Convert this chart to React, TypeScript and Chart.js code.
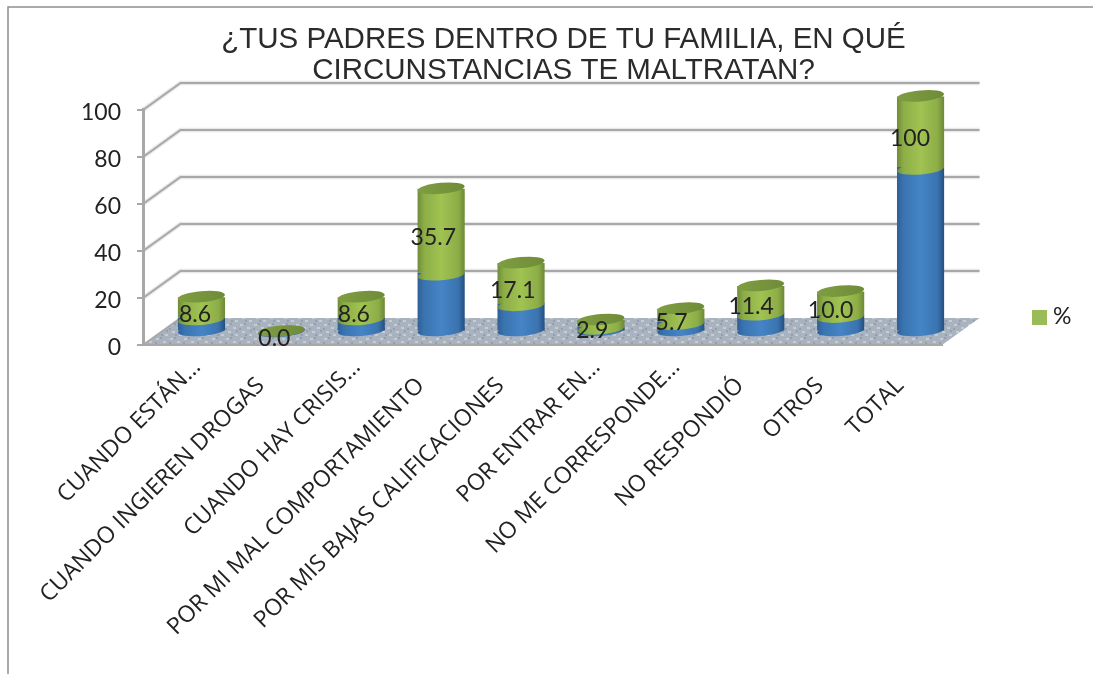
import React, { useEffect, useRef } from "react";
import { Chart, registerables } from "chart.js";

Chart.register(...registerables);

const chartTitle = ["¿TUS PADRES DENTRO DE TU FAMILIA, EN QUÉ", "CIRCUNSTANCIAS TE MALTRATAN?"];
const categories = [
  "CUANDO ESTÁN…",
  "CUANDO INGIEREN DROGAS",
  "CUANDO HAY CRISIS…",
  "POR MI MAL COMPORTAMIENTO",
  "POR MIS BAJAS CALIFICACIONES",
  "POR ENTRAR EN…",
  "NO ME CORRESPONDE…",
  "NO RESPONDIÓ",
  "OTROS",
  "TOTAL",
];
const countValues = [6, 0, 6, 25, 12, 2, 4, 8, 7, 70];
const percentValues = [8.6, 0, 8.6, 35.7, 17.1, 2.9, 5.7, 11.4, 10.0, 100];
const yTicks = [0, 20, 40, 60, 80, 100];

const BAR_PCT = 0.59;
const WALL = { x: 37.5, y: -27 };
const MID = { x: 18.5, y: -13.5 };
const TEXT = "#222222";
const LABEL_FONT = '"Open Sans", sans-serif';
const NUM_FONT = "Lato, sans-serif";

function barGradient(ctx: any, chart: any, index: number, stops: string[]) {
  const x = chart.scales.x;
  const half = ((x.width / categories.length) * BAR_PCT) / 2;
  const c = x.getPixelForValue(index);
  if (!Number.isFinite(c) || !Number.isFinite(half)) return stops[2];
  const g = ctx.createLinearGradient(c - half, 0, c + half, 0);
  const pos = [0, 0.14, 0.5, 0.86, 1];
  stops.forEach((s, i) => g.addColorStop(pos[i], s));
  return g;
}
const BLUE = ["#2f5f96", "#3a74b0", "#4584c6", "#3a74b0", "#234f80"];
const GREEN = ["#6f8c38", "#8dad47", "#a0c352", "#8dad47", "#6d8936"];

function floorPattern(ctx: CanvasRenderingContext2D) {
  const c = document.createElement("canvas");
  c.width = 14;
  c.height = 14;
  const p = c.getContext("2d")!;
  p.fillStyle = "#a9b2bf";
  p.fillRect(0, 0, 14, 14);
  p.fillStyle = "#c6ccd4";
  [[2, 2], [9, 5], [4, 9], [11, 12]].forEach(([x, y]) => p.fillRect(x, y, 3, 2));
  p.fillStyle = "#949eac";
  [[6, 1], [1, 6], [12, 8], [7, 12]].forEach(([x, y]) => p.fillRect(x, y, 2, 2));
  return ctx.createPattern(c, "repeat")!;
}

const cylinderPlugin = {
  id: "cylinder3d",
  beforeDraw(chart: any) {
    const { ctx, chartArea: a, scales } = chart;
    ctx.save();
    // outer frame
    ctx.strokeStyle = "#8f8f8f";
    ctx.lineWidth = 1.5;
    ctx.beginPath();
    ctx.moveTo(8, 674);
    ctx.lineTo(8, 7);
    ctx.lineTo(1093, 7);
    ctx.stroke();
    // floor
    ctx.fillStyle = floorPattern(ctx);
    ctx.beginPath();
    ctx.moveTo(a.left, a.bottom);
    ctx.lineTo(a.right, a.bottom);
    ctx.lineTo(a.right + WALL.x, a.bottom + WALL.y);
    ctx.lineTo(a.left + WALL.x, a.bottom + WALL.y);
    ctx.closePath();
    ctx.fill();
    // walls
    for (const v of yTicks) {
      if (v === 0) continue;
      const p = scales.y.getPixelForValue(v);
      [
        ["#e8e8e8", 4.5],
        ["#a8a8a8", 2],
      ].forEach(([col, w]) => {
        ctx.strokeStyle = col;
        ctx.lineWidth = w;
        ctx.beginPath();
        ctx.moveTo(a.left, p);
        ctx.lineTo(a.left + WALL.x, p + WALL.y);
        ctx.lineTo(a.right + WALL.x, p + WALL.y);
        ctx.stroke();
      });
    }
    ctx.strokeStyle = "#a8a8a8";
    ctx.lineWidth = 2;
    ctx.beginPath();
    ctx.moveTo(a.left, a.bottom);
    ctx.lineTo(a.left + WALL.x, a.bottom + WALL.y);
    ctx.stroke();
    ctx.restore();
  },
  beforeDatasetDraw(chart: any) {
    chart.ctx.save();
    chart.ctx.translate(MID.x, MID.y);
  },
  afterDatasetDraw(chart: any, args: any) {
    const { ctx, chartArea: a } = chart;
    // datasets are painted from last to first, so the curved joints and caps go on after dataset 0
    if (args.index === 0) {
      const blue = chart.getDatasetMeta(0).data;
      const green = chart.getDatasetMeta(1).data;
      const rot = (-5 * Math.PI) / 180;
      blue.forEach((el: any, i: number) => {
        const rx = el.width / 2;
        const ry = 5.5;
        ctx.fillStyle = barGradient(ctx, chart, i, BLUE);
        ctx.beginPath();
        ctx.ellipse(el.x, el.base, rx, ry, rot, 0, Math.PI * 2);
        ctx.fill();
        if (countValues[i] > 0) {
          const g = green[i];
          ctx.save();
          ctx.fillStyle = barGradient(ctx, chart, i, GREEN);
          ctx.beginPath();
          ctx.ellipse(g.x, g.base + 2, rx, ry, rot, 0, Math.PI * 2);
          ctx.fill();
          ctx.restore();
        }
        const top = Math.max(green[i].y, a.top);
        const capG = ctx.createLinearGradient(el.x - rx, 0, el.x + rx, 0);
        capG.addColorStop(0, "#7f9e42");
        capG.addColorStop(1, "#6f8b38");
        ctx.fillStyle = capG;
        ctx.beginPath();
        ctx.ellipse(el.x, top - 0.5, rx, ry, rot, 0, Math.PI * 2);
        ctx.fill();
      });
    }
    ctx.restore();
  },
  afterDatasetsDraw(chart: any) {
    const { ctx, chartArea: a, scales } = chart;
    const green = chart.getDatasetMeta(1).data;
    ctx.save();
    // data labels
    ctx.fillStyle = TEXT;
    ctx.font = `23px ${NUM_FONT}`;
    ctx.textAlign = "center";
    ctx.textBaseline = "middle";
    green.forEach((el: any, i: number) => {
      const v = percentValues[i];
      const top = Math.max(el.y, a.top);
      const txt = v === 100 ? "100" : v.toFixed(1);
      ctx.fillText(txt, el.x + 12 - i * 0.45, (top + el.base) / 2 - 6.5);
    });
    // category labels
    ctx.font = `23px ${LABEL_FONT}`;
    ctx.textAlign = "right";
    categories.forEach((c, i) => {
      const cut = c.endsWith("…");
      const x = scales.x.getPixelForValue(i) + (cut ? 14 : -2);
      ctx.save();
      ctx.translate(x, cut ? 363.5 : 382);
      ctx.rotate(-Math.PI / 4);
      ctx.fillText(c, 0, 0);
      ctx.restore();
    });
    // legend
    const ds = chart.data.datasets[1];
    ctx.fillStyle = ds.legendColor;
    ctx.fillRect(1032, 310, 15, 15);
    ctx.fillStyle = TEXT;
    ctx.font = `23px ${NUM_FONT}`;
    ctx.textAlign = "left";
    ctx.fillText(ds.label, 1053, 317);
    ctx.restore();
  },
};

export default function App() {
  const ref = useRef<HTMLCanvasElement | null>(null);
  useEffect(() => {
    document.body.style.margin = "0";
    document.body.style.overflow = "hidden";
    const chart = new Chart(ref.current!, {
      type: "bar",
      data: {
        labels: categories,
        datasets: [
          {
            label: "N",
            data: countValues,
            backgroundColor: (c: any) =>
              c.dataIndex === undefined ? BLUE[2] : barGradient(c.chart.ctx, c.chart, c.dataIndex, BLUE),
          },
          {
            label: "%",
            data: percentValues,
            legendColor: "#9bbb59",
            backgroundColor: (c: any) =>
              c.dataIndex === undefined ? GREEN[2] : barGradient(c.chart.ctx, c.chart, c.dataIndex, GREEN),
          },
        ] as any,
      },
      plugins: [cylinderPlugin],
      options: {
        responsive: false,
        animation: false,
        layout: { padding: { left: 34, top: 0, right: 0, bottom: 0 } },
        datasets: { bar: { categoryPercentage: 1, barPercentage: BAR_PCT } },
        plugins: {
          legend: { display: false },
          tooltip: { enabled: false },
          title: {
            display: true,
            text: chartTitle,
            color: "#2b2b2b",
            font: { family: '"Liberation Sans", sans-serif', size: 29.5, weight: "normal", lineHeight: 1.05 },
            padding: { top: 24, bottom: 24 },
          },
        },
        scales: {
          x: {
            stacked: true,
            grid: { display: false },
            border: { display: true, color: "#a8a8a8", width: 2 },
            ticks: { display: false },
            afterFit: (s: any) => {
              s.height = 329;
            },
          },
          y: {
            stacked: true,
            min: 0,
            max: 100,
            ticks: {
              stepSize: 20,
              color: TEXT,
              padding: 16,
              labelOffset: 2.5,
              font: { family: NUM_FONT, size: 23 },
            },
            grid: { drawOnChartArea: false, tickLength: 6, color: "#a8a8a8", lineWidth: 2 },
            border: { color: "#a8a8a8", width: 3 },
            afterFit: (s: any) => {
              s.width = 109;
            },
          },
          y2: {
            position: "right",
            grid: { display: false },
            border: { display: false },
            ticks: { display: false },
            afterFit: (s: any) => {
              s.width = 151;
            },
          },
        },
      } as any,
    });
    return () => chart.destroy();
  }, []);
  return <canvas ref={ref} width={1093} height={674} style={{ display: "block" }} />;
}
